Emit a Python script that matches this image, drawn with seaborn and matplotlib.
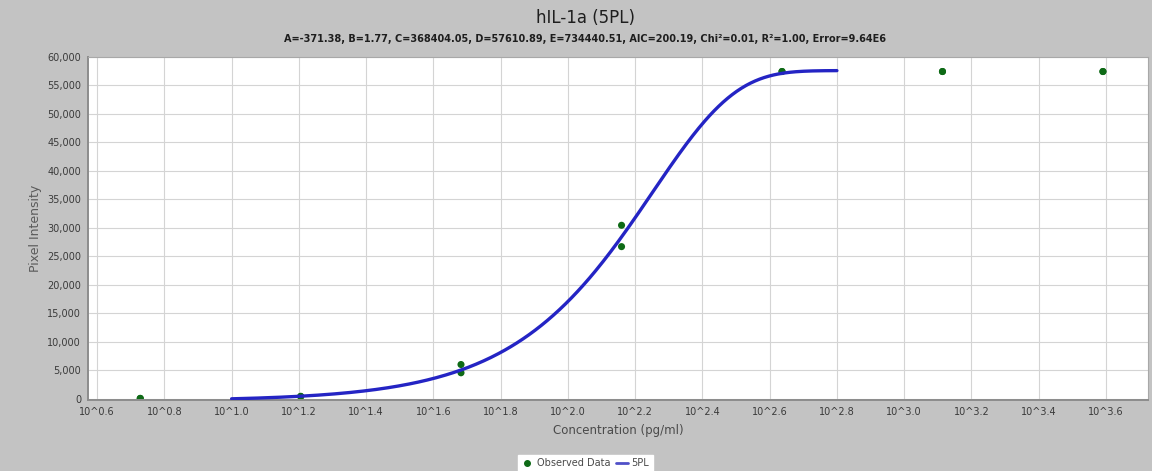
import numpy as np
import pandas as pd
import matplotlib
matplotlib.use("Agg")
import matplotlib.pyplot as plt
import seaborn as sns
from matplotlib.lines import Line2D

# Observed standards (pg/ml) and their pixel intensities (duplicates)
conc = [5.35, 5.35, 16.05, 16.05, 48.1, 48.1, 144.4, 144.4,
        433.3, 433.3, 1300.0, 1300.0, 3900.0, 3900.0]
intensity = [40, 60, 380, 420, 6000, 4550, 30450, 26700,
             57450, 57450, 57450, 57450, 57450, 57450]

# 5PL fit parameters
A, B, C, D, E = -371.38, 1.77, 368404.05, 57610.89, 734440.51
fit_range = [10 ** 1.0, 10 ** 2.8]

title = "hIL-1a (5PL)"
subtitle = ("A=-371.38, B=1.77, C=368404.05, D=57610.89, E=734440.51, "
            "AIC=200.19, Chi\u00b2=0.01, R\u00b2=1.00, Error=9.64E6")
x_tick_exps = [0.6, 0.8, 1.0, 1.2, 1.4, 1.6, 1.8, 2.0, 2.2, 2.4, 2.6, 2.8,
               3.0, 3.2, 3.4, 3.6]
y_ticks = list(range(0, 60001, 5000))

sns.set_theme(style="white")
plt.rcParams["font.family"] = ["DejaVu Sans"]

bg = "#c3c3c3"
fig = plt.figure(figsize=(11.52, 4.71), dpi=100, facecolor=bg)
ax = fig.add_axes([0.0764, 0.1505, 0.9201, 0.7285])
ax.set_facecolor("white")

# Fitted curve evaluated from the stated parameters
xs = np.logspace(np.log10(fit_range[0]), np.log10(fit_range[1]), 400)
with np.errstate(over="ignore"):
    ys = D + (A - D) / np.exp(E * np.log1p((xs / C) ** B))
curve = pd.DataFrame({"x": xs, "y": ys})
obs = pd.DataFrame({"x": conc, "y": intensity})

ax.set_xscale("log")
sns.lineplot(data=curve, x="x", y="y", ax=ax, color="#2424c4", lw=2.4,
             zorder=3, legend=False)
sns.scatterplot(data=obs, x="x", y="y", ax=ax, color="#0e6a16", s=26,
                edgecolor="none", zorder=2, legend=False)

ax.set_xlim(10 ** 0.573, 10 ** 3.725)
ax.set_ylim(-250, 60000)
ax.set_xticks([10 ** e for e in x_tick_exps])
ax.set_xticklabels([f"10^{e:.1f}" for e in x_tick_exps])
ax.xaxis.set_minor_locator(matplotlib.ticker.NullLocator())
ax.set_yticks(y_ticks)
ax.set_yticklabels([f"{v:,}" for v in y_ticks])
ax.grid(True, color="#d4d4d4", lw=0.8)
ax.tick_params(axis="both", labelsize=7, colors="#3a3a3a", length=2,
               width=0.6, pad=3)
for s in ("left", "bottom"):
    ax.spines[s].set_color("#8c8c8c")
    ax.spines[s].set_linewidth(1.4)
for s in ("top", "right"):
    ax.spines[s].set_color("#a8a8a8")
    ax.spines[s].set_linewidth(0.8)

ax.set_xlabel("Concentration (pg/ml)", fontsize=8.5, color="#4a4a4a",
              labelpad=5)
ax.set_ylabel("Pixel Intensity", fontsize=9, color="#5a5a5a", labelpad=4)

fig.text(0.508, 0.962, title, ha="center", va="center", fontsize=12,
         color="#1e1e1e")
fig.text(0.508, 0.917, subtitle, ha="center", va="center", fontsize=7,
         fontweight="bold", color="#1e1e1e")

handles = [
    Line2D([], [], marker="o", ls="none", color="#0e6a16", markersize=4),
    Line2D([], [], color="#5050c8", lw=2),
]
leg = fig.legend(handles, ["Observed Data", "5PL"], loc="lower center",
                 bbox_to_anchor=(0.508, -0.012), ncol=2, fontsize=7,
                 frameon=True, fancybox=False, framealpha=1,
                 handlelength=1.2, handletextpad=0.4, columnspacing=0.6,
                 borderpad=0.35)
leg.get_frame().set_facecolor("white")
leg.get_frame().set_edgecolor("white")
for t in leg.get_texts():
    t.set_color("#4a4a4a")

fig.savefig("out.png", dpi=100, facecolor=bg)
